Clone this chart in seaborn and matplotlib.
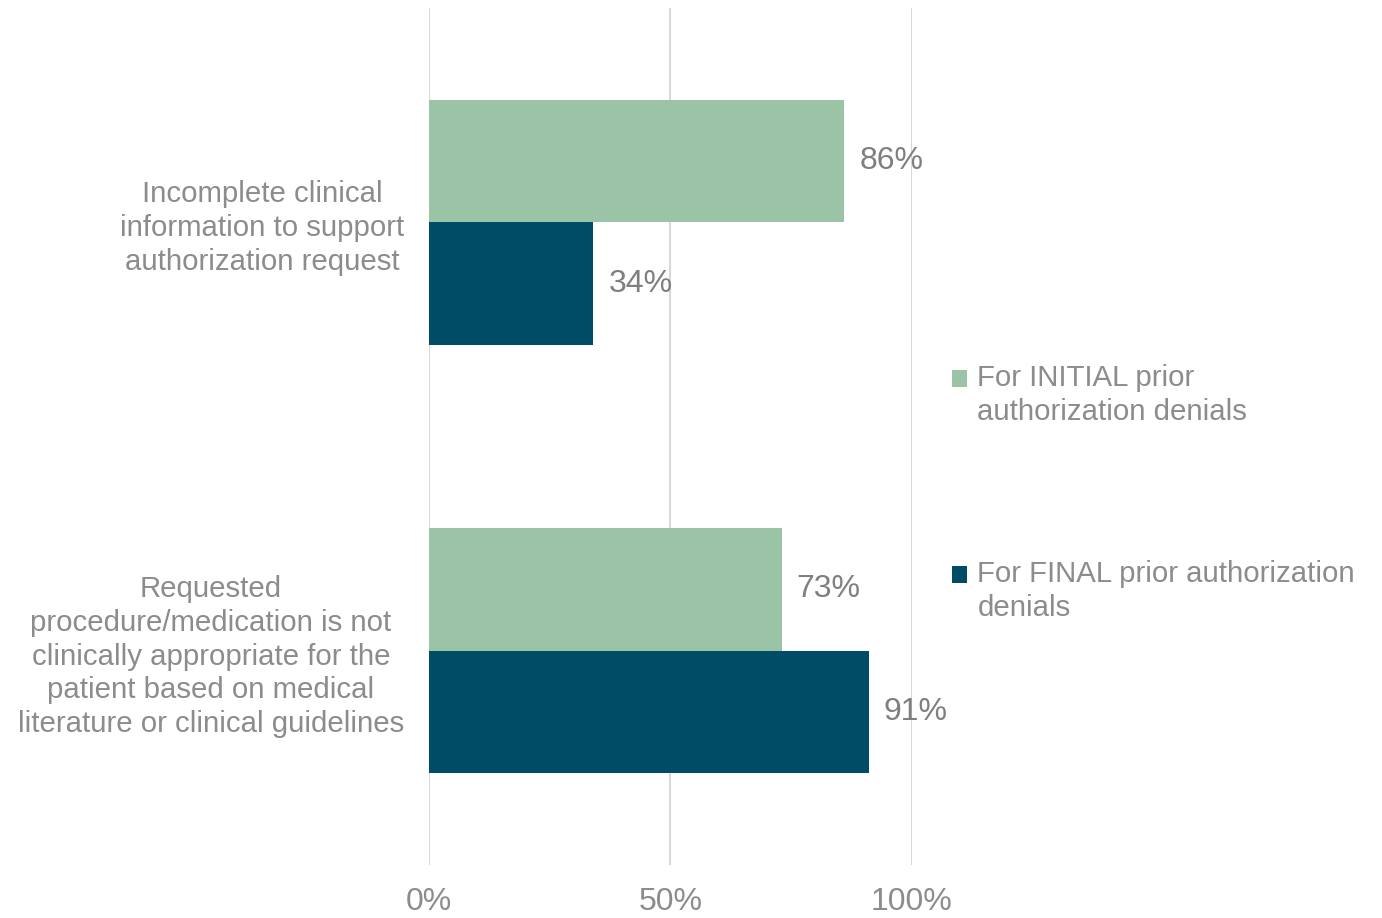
import matplotlib
matplotlib.use("Agg")
import matplotlib.pyplot as plt
import seaborn as sns
import pandas as pd
from matplotlib.patches import Patch, Rectangle
from matplotlib.legend_handler import HandlerPatch

categories = [
    "Incomplete clinical\ninformation to support\nauthorization request",
    "Requested\nprocedure/medication is not\nclinically appropriate for the\npatient based on medical\nliterature or clinical guidelines",
]
series = [
    "For INITIAL prior\nauthorization denials",
    "For FINAL prior authorization\ndenials",
]
initial_values = [86, 73]
final_values = [34, 91]
x_ticks = [0, 50, 100]
x_tick_labels = ["0%", "50%", "100%"]
colors = ["#9BC3A6", "#004C66"]

df = pd.DataFrame({
    "category": categories * 2,
    "series": [series[0]] * 2 + [series[1]] * 2,
    "value": initial_values + final_values,
})

sns.set_theme(style="white")
plt.rcParams["font.family"] = ["Liberation Sans", "DejaVu Sans"]
text_gray = "#8C8C8C"
label_gray = "#7F7F7F"

fig = plt.figure(figsize=(13.82, 9.18), dpi=100)
ax = fig.add_axes([0.3104, 0.0577, 0.6599 - 0.3104, 0.9913 - 0.0577])

sns.barplot(data=df, y="category", x="value", hue="series", hue_order=series,
            order=categories, palette=colors, width=0.572, orient="h",
            saturation=1, legend=False, ax=ax, linewidth=0)

for cont in ax.containers:
    ax.bar_label(cont, labels=[f"{v:.0f}%" for v in cont.datavalues],
                 padding=11, fontsize=23, color=label_gray)

ax.set_xlim(0, 100)
ax.set_ylim(1.5, -0.5)
ax.set_xticks(x_ticks)
ax.set_xticklabels(x_tick_labels, fontsize=23, color=text_gray)
ax.tick_params(axis="x", length=0, pad=16)
ax.tick_params(axis="y", length=0, pad=18)
for lbl in ax.get_yticklabels():
    lbl.set_fontsize(21.2)
    lbl.set_color(text_gray)
    lbl.set_multialignment("center")
    lbl.set_linespacing(1.26)
ax.set_xlabel("")
ax.set_ylabel("")
ax.xaxis.grid(True, color="#D9D9D9", linewidth=1.5)
ax.set_axisbelow(True)
for s in ax.spines.values():
    s.set_visible(False)


def top_aligned_square(legend, orig_handle, xdescent, ydescent, width, height, fontsize):
    # lift the swatch so it sits beside the first line of a two-line label
    return Rectangle((-xdescent, -ydescent + 0.58 * fontsize), width, height)


handles = [Patch(facecolor=c, edgecolor="none") for c in colors]
leg = fig.legend(handles, series, loc="upper left", bbox_to_anchor=(0.6785, 0.619),
                 frameon=False, fontsize=21.2, labelcolor=text_gray,
                 handlelength=0.5, handleheight=0.5, handletextpad=0.35,
                 labelspacing=4.54, borderpad=0,
                 handler_map={Patch: HandlerPatch(patch_func=top_aligned_square)})
for t in leg.get_texts():
    t.set_linespacing(1.26)

fig.savefig("out.png", dpi=100)
